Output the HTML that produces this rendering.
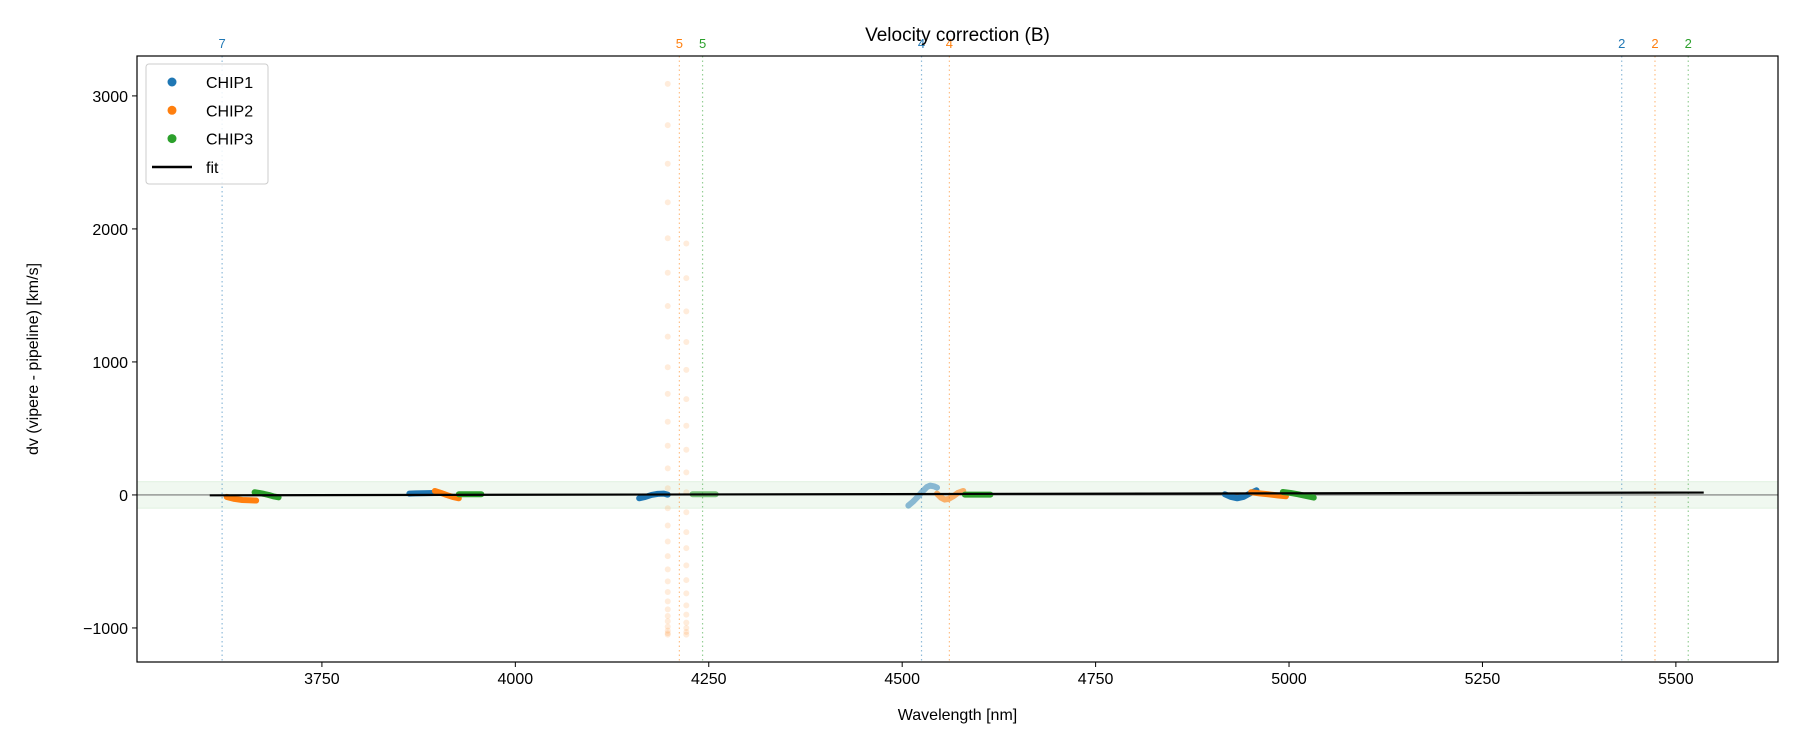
<!DOCTYPE html>
<html><head><meta charset="utf-8"><style>
body{margin:0;background:#fff;}
svg text{font-family:"Liberation Sans","DejaVu Sans",sans-serif;}
</style></head><body>
<svg id="chart" width="1800" height="750" xmlns="http://www.w3.org/2000/svg">
<rect width="1800" height="750" fill="#fff"/>
<g id="plot"></g>
</svg>
<script>
const xTicks=[3750,4000,4250,4500,4750,5000,5250,5500];
const yTicks=[-1000,0,1000,2000,3000];
const orderWl=[3621,4212,4242,4525,4561,5430,5473,5516];
const orderLbl=['7','5','5','4','4','2','2','2'];
const orderChip=[0,1,2,0,1,0,1,2];
const segChip=[1,2,0,1,2,0,2,0,1,2,0,1,2];
const segAlpha=[1,1,1,1,1,1,0.6,0.5,0.6,1,1,1,1];
const segWl=[
[3627,3637,3647,3656,3665],
[3663,3669,3675,3681,3687,3694],
[3863,3871,3880,3888,3896],
[3896,3904,3911,3919,3927],
[3927,3937,3946,3956],
[4160,4168,4176,4184,4192,4197],
[4229,4239,4249,4259],
[4508,4514,4520,4526,4532,4536,4541,4545],
[4545,4550,4555,4560,4566,4572,4579],
[4581,4592,4603,4614],
[4917,4925,4933,4941,4949,4958],
[4951,4962,4973,4985,4996],
[4992,5002,5012,5022,5032]];
const segDv=[
[-15,-30,-38,-40,-42],
[20,15,8,0,-10,-18],
[10,12,13,14,15],
[30,15,0,-15,-25],
[5,5,5,5],
[-25,-15,0,8,10,2],
[5,5,5,5],
[-80,-50,-15,25,60,70,65,55],
[10,-20,-35,-30,-10,15,30],
[2,2,2,2],
[5,-15,-25,-15,10,35],
[20,12,5,-3,-10],
[22,15,5,-8,-20]];
const outWl1=4197, outWl2=4221;
const outDv1=[3090,2780,2490,2200,1930,1670,1420,1190,960,760,550,370,200,50,-100,-230,-350,-460,-560,-650,-730,-800,-860,-910,-950,-990,-1020,-1040,-1050];
const outDv2=[1890,1630,1380,1150,940,720,520,340,170,20,-130,-280,-400,-530,-640,-740,-830,-900,-960,-1000,-1030,-1050];
const fitWl=[3605,5536];
const fitDv=[-3,18];
const bandDv=[-100,100];

const L=137,R=1778,T=56,B=662;
const X0=3511,X1=5632,Y0=-1256,Y1=3300;
const colors=['#1f77b4','#ff7f0e','#2ca02c'];
const sx=v=>L+(v-X0)/(X1-X0)*(R-L);
const sy=v=>B-(v-Y0)/(Y1-Y0)*(B-T);
const NS='http://www.w3.org/2000/svg';
const g=document.getElementById('plot');
function mk(tag,attrs,parent){const e=document.createElementNS(NS,tag);for(const k in attrs)e.setAttribute(k,attrs[k]);(parent||g).appendChild(e);return e;}

let band=mk('rect',{x:L,y:sy(bandDv[1]),width:R-L,height:sy(bandDv[0])-sy(bandDv[1]),fill:'#2ca02c','fill-opacity':0.07,stroke:'#2ca02c','stroke-opacity':0.1});


let zl=mk('line',{x1:L,x2:R,y1:sy(0),y2:sy(0),stroke:'#555','stroke-width':0.8});



orderWl.forEach((w,i)=>{
  const c=colors[orderChip[i]];
  let ln=mk('line',{x1:sx(w),x2:sx(w),y1:T,y2:B,stroke:c,'stroke-opacity':0.5,'stroke-width':1.2,'stroke-dasharray':'1.5,3'});
  
  
  let t=mk('text',{x:sx(w),y:T-8,'text-anchor':'middle','font-size':13,fill:c});
  t.textContent=orderLbl[i];
  
  
});

[[outWl1,outDv1],[outWl2,outDv2]].forEach(([w,arr])=>{
  arr.forEach(v=>{
    let c=mk('circle',{cx:sx(w),cy:sy(v),r:3,fill:'#ff7f0e','fill-opacity':0.15});
    
    
  });
});

segWl.forEach((ws,i)=>{
  const pts=ws.map((w,j)=>sx(w)+','+sy(segDv[i][j])).join(' ');
  let p=mk('polyline',{points:pts,fill:'none',stroke:colors[segChip[i]],'stroke-width':6,'stroke-linecap':'round','stroke-linejoin':'round','stroke-opacity':segAlpha[i]});
  
  
});

let fit=mk('line',{x1:sx(fitWl[0]),y1:sy(fitDv[0]),x2:sx(fitWl[1]),y2:sy(fitDv[1]),stroke:'#000','stroke-width':2.2});



let fr=mk('rect',{x:L,y:T,width:R-L,height:B-T,fill:'none',stroke:'#000','stroke-width':1.2});



xTicks.forEach(v=>{
  let tk=mk('line',{x1:sx(v),x2:sx(v),y1:B,y2:B+5,stroke:'#000','stroke-width':1});
  
  
  let t=mk('text',{x:sx(v),y:B+22,'text-anchor':'middle','font-size':16,fill:'#000'});
  t.textContent=v;
  
  
});
yTicks.forEach(v=>{
  let tk=mk('line',{x1:L-5,x2:L,y1:sy(v),y2:sy(v),stroke:'#000','stroke-width':1});
  
  
  let t=mk('text',{x:L-9,y:sy(v)+6,'text-anchor':'end','font-size':16,fill:'#000'});
  t.textContent=v<0?'\u2212'+Math.abs(v):v;
  
  
});

let title=mk('text',{x:(L+R)/2,y:41,'text-anchor':'middle','font-size':19,fill:'#000'});
title.textContent='Velocity correction (B)';


let xl=mk('text',{x:(L+R)/2,y:720,'text-anchor':'middle','font-size':16,fill:'#000'});
xl.textContent='Wavelength [nm]';


let yl=mk('text',{x:0,y:0,'text-anchor':'middle','font-size':16,fill:'#000',transform:'translate(38,'+(T+B)/2+') rotate(-90)'});
yl.textContent='dv (vipere - pipeline) [km/s]';



const lg=mk('g',{});


mk('rect',{x:146,y:64,width:122,height:120,rx:3,fill:'#fff','fill-opacity':0.85,stroke:'#ccc'},lg);
['CHIP1','CHIP2','CHIP3'].forEach((n,i)=>{
  const y=82+i*28.3;
  let c=mk('circle',{cx:172,cy:y,r:4.5,fill:colors[i]},lg);
  
  
  let t=mk('text',{x:206,y:y+6,'font-size':16,fill:'#000'},lg);
  t.textContent=n;
  
  
});
let fl=mk('line',{x1:152,x2:192,y1:167,y2:167,stroke:'#000','stroke-width':2.5},lg);


let ft=mk('text',{x:206,y:173,'font-size':16,fill:'#000'},lg);
ft.textContent='fit';


</script>
</body></html>
